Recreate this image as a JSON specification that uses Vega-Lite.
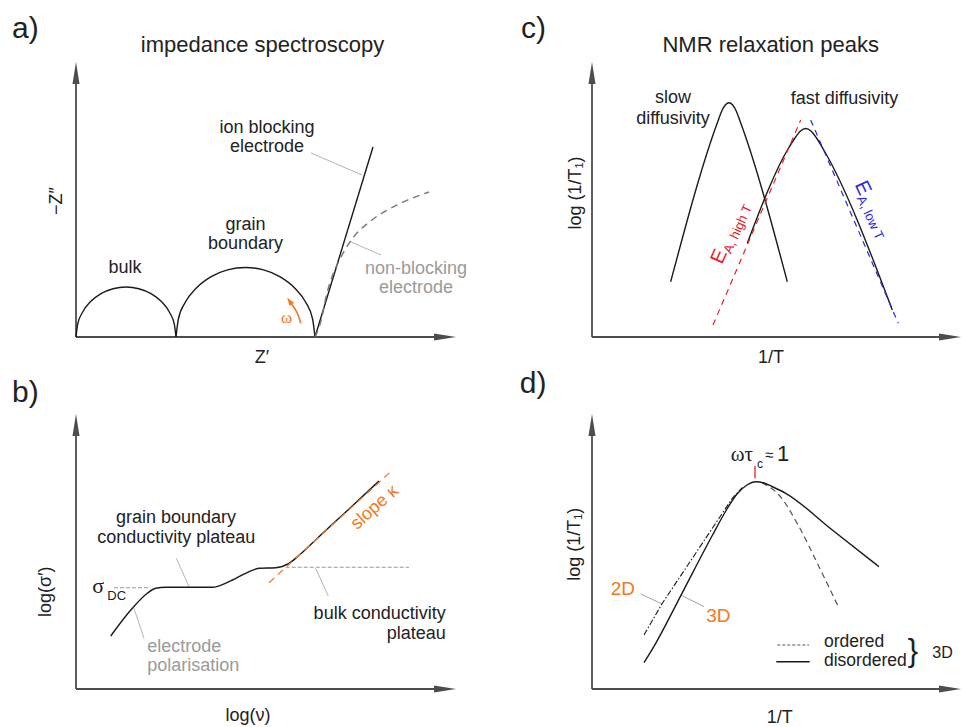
{
"$schema":"https://vega.github.io/schema/vega-lite/v6.json",
"autosize":{"type":"pad"},
"padding":{"left":12,"top":14,"right":0,"bottom":0},
"background":"white",
"config":{"view":{"stroke":null},"font":"Liberation Sans","text":{"font":"Liberation Sans"}},
"columns":2,
"spacing":{"row":77,"column":136},
"bounds":"flush",
"concat":[
{"width":380,"height":275,
"data":{"values":[
{"el":"ax","x":0,"y":0,"x2":372,"y2":0},{"el":"ax","x":0,"y":0,"x2":0,"y2":266},
{"el":"au","x":0,"y":264},{"el":"ar","x":369,"y":0},
{"el":"k","s":"bulk","x":0,"y":0},{"el":"k","s":"bulk","x":1.7,"y":12.9},{"el":"k","s":"bulk","x":6.7,"y":25},{"el":"k","s":"bulk","x":14.6,"y":35.4},{"el":"k","s":"bulk","x":25,"y":43.3},{"el":"k","s":"bulk","x":37.1,"y":48.3},{"el":"k","s":"bulk","x":50,"y":50},{"el":"k","s":"bulk","x":62.9,"y":48.3},{"el":"k","s":"bulk","x":75,"y":43.3},{"el":"k","s":"bulk","x":85.4,"y":35.4},{"el":"k","s":"bulk","x":93.3,"y":25},{"el":"k","s":"bulk","x":98.3,"y":12.9},{"el":"k","s":"bulk","x":100,"y":0},
{"el":"k","s":"gb","x":100,"y":0},{"el":"k","s":"gb","x":102.4,"y":18},{"el":"k","s":"gb","x":109.3,"y":34.75},{"el":"k","s":"gb","x":120.4,"y":49.1},{"el":"k","s":"gb","x":134.75,"y":60.2},{"el":"k","s":"gb","x":151.5,"y":67.1},{"el":"k","s":"gb","x":169.5,"y":69.5},{"el":"k","s":"gb","x":187.5,"y":67.1},{"el":"k","s":"gb","x":204.25,"y":60.2},{"el":"k","s":"gb","x":218.6,"y":49.1},{"el":"k","s":"gb","x":229.7,"y":34.75},{"el":"k","s":"gb","x":236.6,"y":18},{"el":"k","s":"gb","x":239,"y":0},
{"el":"k","s":"ion","x":239,"y":0},{"el":"k","s":"ion","x":297,"y":190},
{"el":"nb","x":239,"y":0},{"el":"nb","x":246,"y":20},{"el":"nb","x":250,"y":40},{"el":"nb","x":256,"y":60},{"el":"nb","x":264,"y":78},{"el":"nb","x":276,"y":98},{"el":"nb","x":296,"y":117},{"el":"nb","x":323,"y":133},{"el":"nb","x":353,"y":145},
{"el":"ld","s":"a","x":235,"y":184},{"el":"ld","s":"a","x":286,"y":162},{"el":"ld","s":"b","x":275,"y":95},{"el":"ld","s":"b","x":305,"y":82},
{"el":"om","x":224.7,"y":13.7},{"el":"om","x":222.5,"y":21},{"el":"om","x":219,"y":28},{"el":"om","x":215.5,"y":33},
{"el":"omh","x":213.5,"y":36},
{"el":"t18","x":49,"y":64,"t":"bulk"},{"el":"t18","x":169.5,"y":107,"t":"grain"},{"el":"t18","x":169.5,"y":88,"t":"boundary"},{"el":"t18","x":191,"y":204,"t":"ion blocking"},{"el":"t18","x":191,"y":185,"t":"electrode"},{"el":"t18","x":186,"y":-26,"t":"Z′"},
{"el":"tg","x":340,"y":63,"t":"non-blocking"},{"el":"tg","x":340,"y":44,"t":"electrode"},
{"el":"ti","x":186.5,"y":285,"t":"impedance spectroscopy"},
{"el":"lt","x":-64,"y":299,"t":"a)"},
{"el":"ty","x":-19.5,"y":136,"t":"−Z″"},
{"el":"tw","x":210.5,"y":14,"t":"ω"}
]},
"encoding":{"x":{"field":"x","type":"quantitative","scale":{"domain":[0,380],"nice":false,"zero":false},"axis":null},"y":{"field":"y","type":"quantitative","scale":{"domain":[0,275],"nice":false,"zero":false},"axis":null}},
"layer":[
{"transform":[{"filter":{"field":"el","equal":"ax"}}],"mark":{"type":"rule","color":"#4d4d4d","strokeWidth":1.8},"encoding":{"x2":{"field":"x2"},"y2":{"field":"y2"}}},
{"transform":[{"filter":{"field":"el","equal":"au"}}],"mark":{"type":"point","shape":"M0,-1L0.32,1L-0.32,1Z","size":484,"filled":true,"opacity":1,"strokeWidth":0,"color":"#4d4d4d"}},
{"transform":[{"filter":{"field":"el","equal":"ar"}}],"mark":{"type":"point","shape":"M1,0L-1,0.32L-1,-0.32Z","size":484,"filled":true,"opacity":1,"strokeWidth":0,"color":"#4d4d4d"}},
{"transform":[{"filter":{"field":"el","equal":"ld"}}],"mark":{"type":"line","color":"#b5b5b5","strokeWidth":1},"encoding":{"detail":{"field":"s"},"order":{"value":null}}},
{"transform":[{"filter":{"field":"el","equal":"k"}}],"mark":{"type":"line","color":"#1a1a1a","strokeWidth":1.4,"interpolate":"monotone"},"encoding":{"detail":{"field":"s"},"order":{"value":null}}},
{"transform":[{"filter":{"field":"el","equal":"nb"}}],"mark":{"type":"line","color":"#777777","strokeWidth":1.4,"strokeDash":[7,5],"interpolate":"monotone"},"encoding":{"order":{"value":null}}},
{"transform":[{"filter":{"field":"el","equal":"om"}}],"mark":{"type":"line","color":"#f47920","strokeWidth":1.6,"interpolate":"monotone"},"encoding":{"order":{"value":null}}},
{"transform":[{"filter":{"field":"el","equal":"omh"}}],"mark":{"type":"point","shape":"M0,-1L0.7,1L-0.7,1Z","size":64,"angle":325,"filled":true,"opacity":1,"strokeWidth":0,"color":"#f47920"}},
{"transform":[{"filter":{"field":"el","equal":"t18"}}],"mark":{"type":"text","fontSize":18,"color":"#222222","align":"center","baseline":"alphabetic"},"encoding":{"text":{"field":"t"}}},
{"transform":[{"filter":{"field":"el","equal":"tg"}}],"mark":{"type":"text","fontSize":18,"color":"#9a9a9a","align":"center","baseline":"alphabetic"},"encoding":{"text":{"field":"t"}}},
{"transform":[{"filter":{"field":"el","equal":"ti"}}],"mark":{"type":"text","fontSize":22,"color":"#222222","align":"center","baseline":"alphabetic"},"encoding":{"text":{"field":"t"}}},
{"transform":[{"filter":{"field":"el","equal":"lt"}}],"mark":{"type":"text","fontSize":30,"color":"#222222","align":"left","baseline":"alphabetic"},"encoding":{"text":{"field":"t"}}},
{"transform":[{"filter":{"field":"el","equal":"ty"}}],"mark":{"type":"text","fontSize":18,"color":"#222222","align":"center","baseline":"middle","angle":270},"encoding":{"text":{"field":"t"}}},
{"transform":[{"filter":{"field":"el","equal":"tw"}}],"mark":{"type":"text","fontSize":17,"font":"Liberation Serif","color":"#f47920","align":"center","baseline":"alphabetic"},"encoding":{"text":{"field":"t"}}}
]},
{"width":369,"height":275,
"data":{"values":[
{"el":"ax","x":0,"y":0,"x2":361,"y2":0},{"el":"ax","x":0,"y":0,"x2":0,"y2":266},
{"el":"au","x":0,"y":264},{"el":"ar","x":358,"y":0},
{"el":"k","s":"sl","x":78.7,"y":55.3},{"el":"k","s":"sl","x":126,"y":216},{"el":"k","s":"sl","x":130,"y":226.5},{"el":"k","s":"sl","x":133.5,"y":232.3},{"el":"k","s":"sl","x":137,"y":234.3},{"el":"k","s":"sl","x":140.5,"y":232.3},{"el":"k","s":"sl","x":144,"y":226.5},{"el":"k","s":"sl","x":148,"y":216},{"el":"k","s":"sl","x":195.3,"y":55.3},
{"el":"k","s":"fa","x":155.3,"y":93.7},{"el":"k","s":"fa","x":196,"y":188},{"el":"k","s":"fa","x":203,"y":199},{"el":"k","s":"fa","x":208.5,"y":206},{"el":"k","s":"fa","x":213.7,"y":208.5},{"el":"k","s":"fa","x":219,"y":206},{"el":"k","s":"fa","x":224.5,"y":199},{"el":"k","s":"fa","x":231.5,"y":187.5},{"el":"k","s":"fa","x":300.3,"y":27},
{"el":"rd","x":121,"y":12},{"el":"rd","x":208.7,"y":217},
{"el":"bd","x":218.7,"y":217},{"el":"bd","x":306.3,"y":13.7},
{"el":"t18","x":81,"y":234,"t":"slow"},{"el":"t18","x":81,"y":213,"t":"diffusivity"},{"el":"t18","x":252.5,"y":233,"t":"fast diffusivity"},{"el":"t18","x":179,"y":-26,"t":"1/T"},
{"el":"ti","x":178.7,"y":285,"t":"NMR relaxation peaks"},
{"el":"lt","x":-71,"y":299,"t":"c)"},
{"el":"ty","x":-16,"y":144,"t":"log (1/T₁)"},
{"el":"rE","x":130,"y":72,"t":"E"},{"el":"rs","x":139.1,"y":82.6,"t":"A, high T"},
{"el":"bE","x":262.5,"y":152.5,"t":"E"},{"el":"bs","x":264.5,"y":138.7,"t":"A, low T"}
]},
"encoding":{"x":{"field":"x","type":"quantitative","scale":{"domain":[0,369],"nice":false,"zero":false},"axis":null},"y":{"field":"y","type":"quantitative","scale":{"domain":[0,275],"nice":false,"zero":false},"axis":null}},
"layer":[
{"transform":[{"filter":{"field":"el","equal":"ax"}}],"mark":{"type":"rule","color":"#4d4d4d","strokeWidth":1.8},"encoding":{"x2":{"field":"x2"},"y2":{"field":"y2"}}},
{"transform":[{"filter":{"field":"el","equal":"au"}}],"mark":{"type":"point","shape":"M0,-1L0.32,1L-0.32,1Z","size":484,"filled":true,"opacity":1,"strokeWidth":0,"color":"#4d4d4d"}},
{"transform":[{"filter":{"field":"el","equal":"ar"}}],"mark":{"type":"point","shape":"M1,0L-1,0.32L-1,-0.32Z","size":484,"filled":true,"opacity":1,"strokeWidth":0,"color":"#4d4d4d"}},
{"transform":[{"filter":{"field":"el","equal":"k"}}],"mark":{"type":"line","color":"#1a1a1a","strokeWidth":1.4,"interpolate":"monotone"},"encoding":{"detail":{"field":"s"},"order":{"value":null}}},
{"transform":[{"filter":{"field":"el","equal":"rd"}}],"mark":{"type":"line","color":"#e8202a","strokeWidth":1.2,"strokeDash":[6,5]},"encoding":{"order":{"value":null}}},
{"transform":[{"filter":{"field":"el","equal":"bd"}}],"mark":{"type":"line","color":"#2a2ae0","strokeWidth":1.2,"strokeDash":[6,5]},"encoding":{"order":{"value":null}}},
{"transform":[{"filter":{"field":"el","equal":"t18"}}],"mark":{"type":"text","fontSize":18,"color":"#222222","align":"center","baseline":"alphabetic"},"encoding":{"text":{"field":"t"}}},
{"transform":[{"filter":{"field":"el","equal":"ti"}}],"mark":{"type":"text","fontSize":22,"color":"#222222","align":"center","baseline":"alphabetic"},"encoding":{"text":{"field":"t"}}},
{"transform":[{"filter":{"field":"el","equal":"lt"}}],"mark":{"type":"text","fontSize":30,"color":"#222222","align":"left","baseline":"alphabetic"},"encoding":{"text":{"field":"t"}}},
{"transform":[{"filter":{"field":"el","equal":"ty"}}],"mark":{"type":"text","fontSize":18,"color":"#222222","align":"center","baseline":"middle","angle":270},"encoding":{"text":{"field":"t"}}},
{"transform":[{"filter":{"field":"el","equal":"rE"}}],"mark":{"type":"text","fontSize":20,"color":"#e8202a","align":"left","baseline":"alphabetic","angle":294},"encoding":{"text":{"field":"t"}}},
{"transform":[{"filter":{"field":"el","equal":"rs"}}],"mark":{"type":"text","fontSize":13,"color":"#e8202a","align":"left","baseline":"alphabetic","angle":294},"encoding":{"text":{"field":"t"}}},
{"transform":[{"filter":{"field":"el","equal":"bE"}}],"mark":{"type":"text","fontSize":20,"color":"#2a2ae0","align":"left","baseline":"alphabetic","angle":65},"encoding":{"text":{"field":"t"}}},
{"transform":[{"filter":{"field":"el","equal":"bs"}}],"mark":{"type":"text","fontSize":13,"color":"#2a2ae0","align":"left","baseline":"alphabetic","angle":65},"encoding":{"text":{"field":"t"}}}
]},
{"width":380,"height":275,
"data":{"values":[
{"el":"ax","x":0,"y":0,"x2":372,"y2":0},{"el":"ax","x":0,"y":0,"x2":0,"y2":266},
{"el":"au","x":0,"y":264},{"el":"ar","x":369,"y":0},
{"el":"k","x":34.7,"y":53},{"el":"k","x":56.3,"y":80.7},{"el":"k","x":71.3,"y":95.7},{"el":"k","x":79.7,"y":100.7},{"el":"k","x":89.7,"y":101.7},{"el":"k","x":136.3,"y":101.7},{"el":"k","x":153,"y":107.3},{"el":"k","x":169.7,"y":115.7},{"el":"k","x":183,"y":120.7},{"el":"k","x":199.7,"y":121.3},{"el":"k","x":213,"y":125.7},{"el":"k","x":226.3,"y":136.5},{"el":"k","x":243,"y":152.3},{"el":"k","x":273,"y":180},{"el":"k","x":303,"y":208},
{"el":"od","x":193,"y":106.3},{"el":"od","x":314.7,"y":217.3},
{"el":"gd","s":"a","x":38,"y":101.3},{"el":"gd","s":"a","x":74.7,"y":101.3},{"el":"gd","s":"b","x":209.7,"y":121.7},{"el":"gd","s":"b","x":333,"y":121.7},
{"el":"ld","s":"a","x":100.3,"y":130.7},{"el":"ld","s":"a","x":113,"y":102.3},{"el":"ld","s":"b","x":239.7,"y":120.7},{"el":"ld","s":"b","x":252.3,"y":93},{"el":"ld","s":"c","x":58,"y":80.7},{"el":"ld","s":"c","x":68,"y":50.7},
{"el":"t18","x":100,"y":166.3,"t":"grain boundary"},{"el":"t18","x":100.2,"y":146.3,"t":"conductivity plateau"},{"el":"t18","x":172,"y":-32,"t":"log(ν)"},
{"el":"tr","x":369.7,"y":69.7,"t":"bulk conductivity"},{"el":"tr","x":369.7,"y":49.7,"t":"plateau"},
{"el":"tgl","x":71.3,"y":37.3,"t":"electrode"},{"el":"tgl","x":71.3,"y":18.3,"t":"polarisation"},
{"el":"sg","x":16.3,"y":96,"t":"σ"},{"el":"sd","x":31.3,"y":89,"t":"DC"},
{"el":"lt","x":-64,"y":287,"t":"b)"},
{"el":"ty","x":-30.3,"y":97.3,"t":"log(σ′)"},
{"el":"sk","x":298.8,"y":181.5,"t":"slope κ"}
]},
"encoding":{"x":{"field":"x","type":"quantitative","scale":{"domain":[0,380],"nice":false,"zero":false},"axis":null},"y":{"field":"y","type":"quantitative","scale":{"domain":[0,275],"nice":false,"zero":false},"axis":null}},
"layer":[
{"transform":[{"filter":{"field":"el","equal":"ax"}}],"mark":{"type":"rule","color":"#4d4d4d","strokeWidth":1.8},"encoding":{"x2":{"field":"x2"},"y2":{"field":"y2"}}},
{"transform":[{"filter":{"field":"el","equal":"au"}}],"mark":{"type":"point","shape":"M0,-1L0.32,1L-0.32,1Z","size":484,"filled":true,"opacity":1,"strokeWidth":0,"color":"#4d4d4d"}},
{"transform":[{"filter":{"field":"el","equal":"ar"}}],"mark":{"type":"point","shape":"M1,0L-1,0.32L-1,-0.32Z","size":484,"filled":true,"opacity":1,"strokeWidth":0,"color":"#4d4d4d"}},
{"transform":[{"filter":{"field":"el","equal":"ld"}}],"mark":{"type":"line","color":"#b5b5b5","strokeWidth":1},"encoding":{"detail":{"field":"s"},"order":{"value":null}}},
{"transform":[{"filter":{"field":"el","equal":"gd"}}],"mark":{"type":"line","color":"#999999","strokeWidth":1.1,"strokeDash":[4,2]},"encoding":{"detail":{"field":"s"},"order":{"value":null}}},
{"transform":[{"filter":{"field":"el","equal":"k"}}],"mark":{"type":"line","color":"#1a1a1a","strokeWidth":1.4,"interpolate":"monotone"},"encoding":{"order":{"value":null}}},
{"transform":[{"filter":{"field":"el","equal":"od"}}],"mark":{"type":"line","color":"#f47920","strokeWidth":1.3,"strokeDash":[7,5]},"encoding":{"order":{"value":null}}},
{"transform":[{"filter":{"field":"el","equal":"t18"}}],"mark":{"type":"text","fontSize":18,"color":"#222222","align":"center","baseline":"alphabetic"},"encoding":{"text":{"field":"t"}}},
{"transform":[{"filter":{"field":"el","equal":"tr"}}],"mark":{"type":"text","fontSize":18,"color":"#222222","align":"right","baseline":"alphabetic"},"encoding":{"text":{"field":"t"}}},
{"transform":[{"filter":{"field":"el","equal":"tgl"}}],"mark":{"type":"text","fontSize":18,"color":"#9a9a9a","align":"left","baseline":"alphabetic"},"encoding":{"text":{"field":"t"}}},
{"transform":[{"filter":{"field":"el","equal":"sg"}}],"mark":{"type":"text","fontSize":22,"font":"Liberation Serif","color":"#222222","align":"left","baseline":"alphabetic"},"encoding":{"text":{"field":"t"}}},
{"transform":[{"filter":{"field":"el","equal":"sd"}}],"mark":{"type":"text","fontSize":13,"color":"#222222","align":"left","baseline":"alphabetic"},"encoding":{"text":{"field":"t"}}},
{"transform":[{"filter":{"field":"el","equal":"lt"}}],"mark":{"type":"text","fontSize":30,"color":"#222222","align":"left","baseline":"alphabetic"},"encoding":{"text":{"field":"t"}}},
{"transform":[{"filter":{"field":"el","equal":"ty"}}],"mark":{"type":"text","fontSize":18,"color":"#222222","align":"center","baseline":"middle","angle":270},"encoding":{"text":{"field":"t"}}},
{"transform":[{"filter":{"field":"el","equal":"sk"}}],"mark":{"type":"text","fontSize":18,"color":"#f47920","align":"center","baseline":"middle","angle":318},"encoding":{"text":{"field":"t"}}}
]},
{"width":369,"height":275,
"data":{"values":[
{"el":"ax","x":0,"y":0,"x2":361,"y2":0},{"el":"ax","x":0,"y":0,"x2":0,"y2":266},
{"el":"au","x":0,"y":264},{"el":"ar","x":358,"y":0},
{"el":"k","s":"m","x":52,"y":26.3},{"el":"k","s":"m","x":63.7,"y":45.7},{"el":"k","s":"m","x":90,"y":95.7},{"el":"k","s":"m","x":120,"y":153},{"el":"k","s":"m","x":135,"y":180},{"el":"k","s":"m","x":145,"y":195},{"el":"k","s":"m","x":155,"y":204},{"el":"k","s":"m","x":163.7,"y":207.3},{"el":"k","s":"m","x":172,"y":206},{"el":"k","s":"m","x":180,"y":202.5},{"el":"k","s":"m","x":193.7,"y":195.7},{"el":"k","s":"m","x":240.3,"y":159},{"el":"k","s":"m","x":287,"y":122.3},
{"el":"k","s":"lg","x":184.3,"y":27.3},{"el":"k","s":"lg","x":217.7,"y":27.3},
{"el":"dd","x":52,"y":54},{"el":"dd","x":70.3,"y":85.7},{"el":"dd","x":107,"y":140.7},{"el":"dd","x":140.3,"y":190.7},{"el":"dd","x":150.3,"y":201.3},
{"el":"odd","x":170,"y":206.3},{"el":"odd","x":187,"y":194},{"el":"odd","x":207,"y":162.3},{"el":"odd","x":227,"y":122.3},{"el":"odd","x":246.3,"y":82.3},
{"el":"lgd","x":185.3,"y":44},{"el":"lgd","x":217,"y":44},
{"el":"rt","x":163,"y":223,"x2":163,"y2":210.7},
{"el":"ld","s":"a","x":48.7,"y":95},{"el":"ld","s":"a","x":70.3,"y":85},{"el":"ld","s":"b","x":88.7,"y":94},{"el":"ld","s":"b","x":112,"y":82.3},
{"el":"to","x":18.7,"y":94,"t":"2D"},{"el":"to","x":114.3,"y":67.3,"t":"3D"},
{"el":"tl","x":232,"y":42,"t":"ordered"},{"el":"tl","x":232,"y":23.5,"t":"disordered"},
{"el":"t3","x":340.3,"y":30.7,"t":"3D"},
{"el":"br","x":321,"y":37,"t":"}"},
{"el":"t18","x":187.8,"y":-34.3,"t":"1/T"},
{"el":"lt","x":-72.3,"y":295.7,"t":"d)"},
{"el":"ty","x":-17.2,"y":144.8,"t":"log (1/T₁)"},
{"el":"wt","x":138.7,"y":228,"t":"ωτ"},{"el":"wc","x":165,"y":221,"t":"c"},{"el":"wa","x":173,"y":229,"t":"≈"},{"el":"w1","x":185,"y":228,"t":"1"}
]},
"encoding":{"x":{"field":"x","type":"quantitative","scale":{"domain":[0,369],"nice":false,"zero":false},"axis":null},"y":{"field":"y","type":"quantitative","scale":{"domain":[0,275],"nice":false,"zero":false},"axis":null}},
"layer":[
{"transform":[{"filter":{"field":"el","equal":"ax"}}],"mark":{"type":"rule","color":"#4d4d4d","strokeWidth":1.8},"encoding":{"x2":{"field":"x2"},"y2":{"field":"y2"}}},
{"transform":[{"filter":{"field":"el","equal":"au"}}],"mark":{"type":"point","shape":"M0,-1L0.32,1L-0.32,1Z","size":484,"filled":true,"opacity":1,"strokeWidth":0,"color":"#4d4d4d"}},
{"transform":[{"filter":{"field":"el","equal":"ar"}}],"mark":{"type":"point","shape":"M1,0L-1,0.32L-1,-0.32Z","size":484,"filled":true,"opacity":1,"strokeWidth":0,"color":"#4d4d4d"}},
{"transform":[{"filter":{"field":"el","equal":"ld"}}],"mark":{"type":"line","color":"#a0a0a0","strokeWidth":1},"encoding":{"detail":{"field":"s"},"order":{"value":null}}},
{"transform":[{"filter":{"field":"el","equal":"rt"}}],"mark":{"type":"rule","color":"#e8202a","strokeWidth":1.3},"encoding":{"x2":{"field":"x2"},"y2":{"field":"y2"}}},
{"transform":[{"filter":{"field":"el","equal":"dd"}}],"mark":{"type":"line","color":"#1a1a1a","strokeWidth":1.1,"strokeDash":[6,2,1.5,2]},"encoding":{"order":{"value":null}}},
{"transform":[{"filter":{"field":"el","equal":"odd"}}],"mark":{"type":"line","color":"#555555","strokeWidth":1.2,"strokeDash":[6,4],"interpolate":"monotone"},"encoding":{"order":{"value":null}}},
{"transform":[{"filter":{"field":"el","equal":"lgd"}}],"mark":{"type":"line","color":"#555555","strokeWidth":1.2,"strokeDash":[3,2]},"encoding":{"order":{"value":null}}},
{"transform":[{"filter":{"field":"el","equal":"k"}}],"mark":{"type":"line","color":"#1a1a1a","strokeWidth":1.4,"interpolate":"monotone"},"encoding":{"detail":{"field":"s"},"order":{"value":null}}},
{"transform":[{"filter":{"field":"el","equal":"to"}}],"mark":{"type":"text","fontSize":19,"color":"#f47920","align":"left","baseline":"alphabetic"},"encoding":{"text":{"field":"t"}}},
{"transform":[{"filter":{"field":"el","equal":"tl"}}],"mark":{"type":"text","fontSize":17.5,"color":"#222222","align":"left","baseline":"alphabetic"},"encoding":{"text":{"field":"t"}}},
{"transform":[{"filter":{"field":"el","equal":"t3"}}],"mark":{"type":"text","fontSize":16,"color":"#222222","align":"left","baseline":"alphabetic"},"encoding":{"text":{"field":"t"}}},
{"transform":[{"filter":{"field":"el","equal":"br"}}],"mark":{"type":"text","fontSize":31,"color":"#222222","align":"center","baseline":"middle"},"encoding":{"text":{"field":"t"}}},
{"transform":[{"filter":{"field":"el","equal":"t18"}}],"mark":{"type":"text","fontSize":18,"color":"#222222","align":"center","baseline":"alphabetic"},"encoding":{"text":{"field":"t"}}},
{"transform":[{"filter":{"field":"el","equal":"lt"}}],"mark":{"type":"text","fontSize":30,"color":"#222222","align":"left","baseline":"alphabetic"},"encoding":{"text":{"field":"t"}}},
{"transform":[{"filter":{"field":"el","equal":"ty"}}],"mark":{"type":"text","fontSize":18,"color":"#222222","align":"center","baseline":"middle","angle":270},"encoding":{"text":{"field":"t"}}},
{"transform":[{"filter":{"field":"el","equal":"wt"}}],"mark":{"type":"text","fontSize":21,"font":"Liberation Serif","color":"#222222","align":"left","baseline":"alphabetic"},"encoding":{"text":{"field":"t"}}},
{"transform":[{"filter":{"field":"el","equal":"wc"}}],"mark":{"type":"text","fontSize":12,"color":"#222222","align":"left","baseline":"alphabetic"},"encoding":{"text":{"field":"t"}}},
{"transform":[{"filter":{"field":"el","equal":"wa"}}],"mark":{"type":"text","fontSize":15,"color":"#222222","align":"left","baseline":"alphabetic"},"encoding":{"text":{"field":"t"}}},
{"transform":[{"filter":{"field":"el","equal":"w1"}}],"mark":{"type":"text","fontSize":22,"color":"#222222","align":"left","baseline":"alphabetic"},"encoding":{"text":{"field":"t"}}}
]}
]
}
